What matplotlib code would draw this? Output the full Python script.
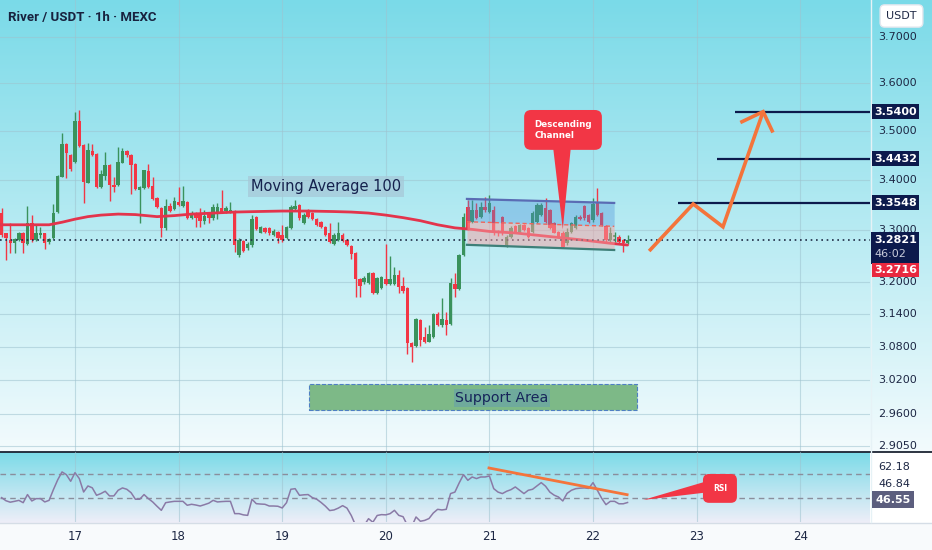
import numpy as np
import matplotlib
matplotlib.use("Agg")
import matplotlib.pyplot as plt
from matplotlib.patches import Rectangle, Polygon
from matplotlib.ticker import NullLocator, NullFormatter
from matplotlib.transforms import IdentityTransform

# River / USDT 1h candles, hour 0 = day 16 00:00
candle_hours = list(range(7, 153))
opens = [3.335, 3.294, 3.282, 3.276, 3.282, 3.295, 3.274, 3.315,
         3.282, 3.292, 3.294, 3.278, 3.286, 3.337, 3.406, 3.473,
         3.451, 3.437, 3.521, 3.471, 3.394, 3.459, 3.453, 3.386,
         3.408, 3.431, 3.390, 3.390, 3.435, 3.459, 3.451, 3.433,
         3.380, 3.384, 3.417, 3.388, 3.364, 3.344, 3.305, 3.348,
         3.342, 3.356, 3.348, 3.356, 3.325, 3.335, 3.335, 3.319,
         3.333, 3.325, 3.337, 3.344, 3.339, 3.337, 3.339, 3.253,
         3.280, 3.266, 3.272, 3.327, 3.295, 3.305, 3.305, 3.292,
         3.297, 3.292, 3.286, 3.305, 3.342, 3.350, 3.315, 3.340,
         3.335, 3.323, 3.317, 3.307, 3.295, 3.274, 3.282, 3.292,
         3.282, 3.270, 3.256, 3.207, 3.201, 3.199, 3.218, 3.180,
         3.190, 3.207, 3.198, 3.198, 3.215, 3.194, 3.190, 3.088,
         3.082, 3.130, 3.099, 3.090, 3.099, 3.141, 3.121, 3.130,
         3.123, 3.198, 3.188, 3.253, 3.346, 3.317, 3.340, 3.327,
         3.346, 3.337, 3.340, 3.297, 3.327, 3.272, 3.288, 3.309,
         3.297, 3.311, 3.305, 3.297, 3.317, 3.331, 3.344, 3.340,
         3.315, 3.297, 3.295, 3.276, 3.297, 3.305, 3.327, 3.348,
         3.331, 3.321, 3.354, 3.335, 3.309, 3.282, 3.288, 3.288,
         3.282, 3.276]
highs = [3.344, 3.295, 3.315, 3.286, 3.297, 3.297, 3.348, 3.331,
         3.311, 3.307, 3.295, 3.286, 3.352, 3.410, 3.496, 3.475,
         3.453, 3.540, 3.544, 3.473, 3.475, 3.473, 3.455, 3.421,
         3.457, 3.433, 3.406, 3.467, 3.465, 3.461, 3.453, 3.435,
         3.388, 3.421, 3.433, 3.406, 3.366, 3.346, 3.362, 3.354,
         3.366, 3.386, 3.388, 3.358, 3.339, 3.337, 3.344, 3.340,
         3.335, 3.352, 3.354, 3.380, 3.348, 3.356, 3.340, 3.286,
         3.282, 3.278, 3.331, 3.329, 3.309, 3.307, 3.307, 3.303,
         3.299, 3.311, 3.309, 3.350, 3.360, 3.352, 3.335, 3.342,
         3.337, 3.325, 3.319, 3.309, 3.315, 3.294, 3.317, 3.294,
         3.284, 3.272, 3.258, 3.209, 3.213, 3.220, 3.220, 3.211,
         3.213, 3.274, 3.251, 3.230, 3.224, 3.211, 3.192, 3.090,
         3.134, 3.132, 3.117, 3.121, 3.143, 3.145, 3.171, 3.145,
         3.209, 3.218, 3.255, 3.335, 3.360, 3.360, 3.354, 3.356,
         3.366, 3.370, 3.348, 3.301, 3.329, 3.292, 3.309, 3.311,
         3.313, 3.313, 3.307, 3.339, 3.354, 3.354, 3.364, 3.342,
         3.317, 3.299, 3.299, 3.305, 3.317, 3.331, 3.331, 3.350,
         3.333, 3.364, 3.384, 3.337, 3.311, 3.307, 3.297, 3.292,
         3.284, 3.292]
lows = [3.288, 3.243, 3.256, 3.256, 3.279, 3.256, 3.272, 3.278,
        3.280, 3.286, 3.264, 3.274, 3.284, 3.335, 3.406, 3.404,
        3.418, 3.435, 3.467, 3.354, 3.394, 3.449, 3.384, 3.384,
        3.400, 3.358, 3.376, 3.388, 3.435, 3.447, 3.372, 3.380,
        3.315, 3.382, 3.384, 3.360, 3.344, 3.288, 3.301, 3.337,
        3.340, 3.348, 3.346, 3.323, 3.323, 3.307, 3.307, 3.313,
        3.315, 3.321, 3.323, 3.335, 3.335, 3.335, 3.259, 3.249,
        3.258, 3.262, 3.268, 3.301, 3.294, 3.295, 3.292, 3.290,
        3.276, 3.278, 3.284, 3.303, 3.340, 3.321, 3.313, 3.325,
        3.321, 3.309, 3.305, 3.290, 3.276, 3.272, 3.280, 3.278,
        3.270, 3.245, 3.173, 3.173, 3.198, 3.198, 3.179, 3.179,
        3.188, 3.196, 3.196, 3.196, 3.180, 3.180, 3.068, 3.053,
        3.081, 3.082, 3.088, 3.090, 3.097, 3.119, 3.117, 3.103,
        3.121, 3.173, 3.186, 3.251, 3.301, 3.315, 3.323, 3.325,
        3.337, 3.335, 3.292, 3.290, 3.292, 3.268, 3.286, 3.295,
        3.295, 3.299, 3.286, 3.295, 3.315, 3.329, 3.315, 3.303,
        3.294, 3.286, 3.266, 3.272, 3.295, 3.303, 3.321, 3.321,
        3.315, 3.317, 3.329, 3.309, 3.278, 3.278, 3.278, 3.276,
        3.258, 3.274]
closes = [3.292, 3.286, 3.276, 3.284, 3.295, 3.276, 3.315, 3.282,
          3.294, 3.295, 3.276, 3.284, 3.335, 3.408, 3.473, 3.455,
          3.423, 3.521, 3.469, 3.396, 3.461, 3.451, 3.386, 3.412,
          3.431, 3.390, 3.386, 3.437, 3.459, 3.451, 3.431, 3.382,
          3.386, 3.419, 3.386, 3.362, 3.346, 3.305, 3.348, 3.339,
          3.358, 3.350, 3.358, 3.325, 3.335, 3.325, 3.319, 3.329,
          3.325, 3.346, 3.346, 3.337, 3.344, 3.340, 3.272, 3.282,
          3.260, 3.274, 3.323, 3.303, 3.307, 3.297, 3.294, 3.299,
          3.286, 3.282, 3.307, 3.346, 3.348, 3.325, 3.331, 3.327,
          3.323, 3.311, 3.307, 3.292, 3.278, 3.292, 3.295, 3.280,
          3.272, 3.255, 3.207, 3.194, 3.209, 3.218, 3.180, 3.209,
          3.211, 3.198, 3.207, 3.215, 3.192, 3.184, 3.088, 3.081,
          3.132, 3.093, 3.090, 3.104, 3.141, 3.121, 3.132, 3.121,
          3.199, 3.188, 3.253, 3.327, 3.305, 3.340, 3.325, 3.346,
          3.340, 3.354, 3.295, 3.294, 3.295, 3.288, 3.305, 3.297,
          3.311, 3.301, 3.288, 3.335, 3.350, 3.350, 3.317, 3.305,
          3.295, 3.288, 3.268, 3.297, 3.315, 3.327, 3.323, 3.325,
          3.317, 3.352, 3.331, 3.311, 3.282, 3.295, 3.292, 3.278,
          3.276, 3.2821]
rsi = [50.5, 48.0, 46.8, 47.5, 48.3, 46.4, 53.0, 47.8,
       49.7, 49.7, 47.0, 48.3, 57.0, 65.0, 71.4, 69.2,
       63.8, 70.8, 66.0, 55.1, 60.0, 58.5, 52.4, 53.8,
       55.7, 51.9, 51.9, 56.5, 58.4, 57.3, 54.5, 49.2,
       49.2, 53.0, 49.7, 47.0, 43.5, 40.2, 46.4, 47.0,
       47.5, 47.5, 47.5, 44.3, 45.1, 44.5, 43.7, 44.8,
       46.0, 48.3, 47.0, 47.3, 47.5, 47.5, 37.5, 37.5,
       36.5, 36.1, 49.2, 45.6, 45.3, 45.1, 43.7, 43.7,
       43.5, 42.1, 46.4, 57.3, 57.8, 52.4, 52.8, 53.0,
       50.5, 49.2, 46.6, 43.6, 40.0, 40.5, 42.0, 44.0,
       42.0, 36.0, 28.0, 27.0, 28.0, 33.4, 30.5, 36.0,
       36.7, 36.5, 37.5, 40.2, 36.1, 35.0, 28.0, 27.0,
       34.8, 31.3, 32.0, 33.5, 38.0, 41.0, 40.5, 41.0,
       53.8, 55.0, 62.5, 69.2, 64.6, 67.3, 66.0, 67.3,
       67.3, 68.1, 57.8, 55.0, 53.8, 55.7, 57.0, 59.2,
       56.5, 53.8, 56.5, 57.3, 60.0, 62.7, 59.8, 55.0,
       52.5, 51.0, 47.8, 54.0, 56.5, 57.8, 58.2, 58.4,
       58.0, 62.7, 56.5, 50.0, 44.8, 47.5, 47.5, 45.5,
       45.5, 46.55]

ma_hours = [6, 12, 18, 21, 24, 27, 30, 34, 38, 43, 47, 51, 56, 61, 66, 72,
            78, 84, 88, 92, 96, 100, 104, 108, 112, 116, 120, 126, 134, 142, 148, 152]
ma_values = [3.311, 3.311, 3.311, 3.316, 3.322, 3.327, 3.330, 3.332, 3.331, 3.327,
             3.329, 3.332, 3.334, 3.336, 3.337, 3.338, 3.338, 3.337, 3.336, 3.334,
             3.330, 3.325, 3.319, 3.311, 3.305, 3.302, 3.298, 3.295, 3.288, 3.281,
             3.275, 3.2716]

day_hours = [24, 48, 72, 96, 120, 144, 168, 192]
day_labels = ["17", "18", "19", "20", "21", "22", "23", "24"]
price_ticks = [3.7, 3.6, 3.5, 3.4, 3.3, 3.2, 3.14, 3.08, 3.02, 2.96, 2.905]

target_levels = [3.5400, 3.4432, 3.3548]
target_start = [176.9, 172.7, 163.7]

proj_hours = [157.0, 167.2, 174.1, 183.4]
proj_prices = [3.260, 3.352, 3.307, 3.540]
head_hours = [178.5, 183.4, 185.5]
head_prices = [3.519, 3.540, 3.500]

channel_hours = [114.8, 148.9]
channel_top = [3.362, 3.354]
channel_bottom = [3.272, 3.262]

support_hours = [78.2, 154.2]
support_prices = [2.9675, 3.0137]

rsi_trend_hours = [119.9, 151.9]
rsi_trend_values = [74.6, 52.9]

last_price = 3.2821
ma_last = 3.2716
rsi_last = 46.55

GREEN = "#3a925c"
RED = "#f23645"
NAVY = "#0c1a4c"
TEXT = "#1d2744"
ORANGE = "#f4743b"
GRID = "#9ec3cf"

XMIN, XMAX = 6.63, 208.16

fig = plt.figure(figsize=(9.32, 5.5), dpi=100)

# background gradients (pixels)
W, H = 932, 550
img = np.ones((H, W, 3))
t = np.linspace(0, 1, 452)[:, None]
img[:452] = ((1 - t) * np.array([122, 218, 232]) + t * np.array([243, 251, 253]))[:, None, :] / 255
t = np.linspace(0, 1, 71)[:, None]
img[452:523, :870] = ((1 - t) * np.array([124, 219, 232]) + t * np.array([238, 238, 248]))[:, None, :] / 255
img[523:] = np.array([248, 250, 252]) / 255
bg = fig.add_axes([0, 0, 1, 1])
bg.imshow(img, aspect="auto", extent=[0, W, H, 0], interpolation="bilinear")
bg.set_xlim(0, W)
bg.set_ylim(H, 0)
bg.axis("off")
bg.plot([0, W], [451.5, 451.5], color="#1c2433", lw=1.3)
bg.plot([0, W], [522.5, 522.5], color="#d5dde6", lw=1)
bg.plot([870.5, 870.5], [0, 522], color="#e6f2f6", lw=1)

# ---------- price panel ----------
ax = fig.add_axes([0, 99 / 550, 870 / 932, 451 / 550])
ax.set_facecolor("none")
ax.set_zorder(2)
for s in ax.spines.values():
    s.set_visible(False)
ax.set_yscale("log")
ax.set_yticks(price_ticks)
ax.yaxis.set_minor_locator(NullLocator())
ax.yaxis.set_minor_formatter(NullFormatter())
ax.set_xticks(day_hours)
ax.tick_params(left=False, labelleft=False, bottom=False, labelbottom=False)
ax.grid(True, color=GRID, lw=0.8, alpha=0.55)
ax.set_axisbelow(True)

hrs = np.array(candle_hours, dtype=float)
o = np.array(opens)
c = np.array(closes)
hi = np.array(highs)
lo = np.array(lows)
cols = np.where(c >= o, GREEN, RED)
ax.vlines(hrs, lo, hi, colors=cols, lw=1.0, zorder=3)
ax.bar(hrs, np.maximum(np.abs(c - o), 0.002), bottom=np.minimum(o, c),
       width=0.8, color=cols, lw=0, zorder=4)

ax.plot(ma_hours, ma_values, color="#e3344c", lw=2.0, zorder=5, solid_capstyle="round")
ax.axhline(last_price, color="#1f2a44", lw=1.2, ls=(0, (1, 2.2)), zorder=6)

# support area
sup = Rectangle((support_hours[0], support_prices[0]),
                support_hours[1] - support_hours[0],
                support_prices[1] - support_prices[0],
                fc="#7db987", ec="#4f7fc4", ls="--", lw=0.8, zorder=2)
ax.add_patch(sup)
ax.text(122.9, 2.9887, "Support Area", ha="center", va="center", fontsize=10.2,
        color="#16245a", zorder=3,
        bbox=dict(boxstyle="square,pad=0.12", fc="#6faa9c", ec="none"))

# descending channel
ch_mid = [(a + b) / 2 for a, b in zip(channel_top, channel_bottom)]
ax.fill_between(channel_hours, ch_mid, channel_top, color="#4a90d9", alpha=0.35, lw=0, zorder=6)
ax.fill_between(channel_hours, channel_bottom, ch_mid, color="#f7a3a3", alpha=0.5, lw=0, zorder=6)
ax.plot(channel_hours, channel_top, color="#5a6cb4", lw=1.6, zorder=7)
ax.plot(channel_hours, channel_bottom, color="#3d7f78", lw=1.6, zorder=7)
ax.plot(channel_hours, ch_mid, color="#f2665a", lw=1, ls=(0, (3, 2)), zorder=7)

ax.add_patch(Polygon([(134.7, 3.47), (138.9, 3.47), (137.0, 3.302)], closed=True,
                     fc=RED, ec="none", zorder=8))
ax.text(137.05, 3.502, "Descending\nChannel", ha="center", va="center", ma="left",
        fontsize=6.3, fontweight="bold", color="white", zorder=9, linespacing=1.25,
        bbox=dict(boxstyle="round,pad=1.15,rounding_size=0.8", fc=RED, ec="none"))

# moving average label
ax.text(82.2, 3.386, "Moving Average 100", ha="center", va="center", fontsize=10.5,
        color="#15214d", zorder=7,
        bbox=dict(boxstyle="square,pad=0.2", fc="#a7c9d8", ec="none", alpha=0.75))

# targets and projected path
ax.hlines(target_levels, target_start, XMAX, colors=NAVY, lw=1.6, zorder=7)
ax.plot(proj_hours, proj_prices, color=ORANGE, lw=2.6, zorder=8,
        solid_joinstyle="miter", solid_capstyle="butt")
ax.plot(head_hours, head_prices, color=ORANGE, lw=2.6, zorder=8, solid_joinstyle="miter")

ax.set_xlim(XMIN, XMAX)
ax.set_ylim(2.8965, 3.7816)

# right price scale
ytr = ax.get_yaxis_transform()
for v in price_ticks:
    ax.annotate(f"{v:.4f}", xy=(1, v), xycoords=ytr, xytext=(8, 0),
                textcoords="offset pixels", ha="left", va="center",
                fontsize=8, color=TEXT, annotation_clip=False, zorder=3)
for v in target_levels:
    ax.annotate(f"{v:.4f}", xy=(1, v), xycoords=ytr, xytext=(4, 0),
                textcoords="offset pixels", ha="left", va="center",
                fontsize=8, fontweight="bold", color="white", annotation_clip=False,
                zorder=10, bbox=dict(boxstyle="square,pad=0.22", fc=NAVY, ec="none"))

# last price box with countdown (drawn in pixels around the price's position)
px, py = ytr.transform((1, last_price))
ax.add_patch(Rectangle((px + 1, py - 24), 48, 32, transform=IdentityTransform(),
                       fc=NAVY, ec="none", zorder=10, clip_on=False))
ax.annotate(f"{last_price:.4f}", xy=(1, last_price), xycoords=ytr, xytext=(4, 0),
            textcoords="offset pixels", ha="left", va="center", fontsize=8,
            fontweight="bold", color="white", annotation_clip=False, zorder=11)
ax.annotate("46:02", xy=(1, last_price), xycoords=ytr, xytext=(4, -14),
            textcoords="offset pixels", ha="left", va="center", fontsize=8,
            color="#c9cddb", annotation_clip=False, zorder=11)
ax.annotate(f"{ma_last:.4f}", xy=(1, ma_last), xycoords=ytr, xytext=(4, -25),
            textcoords="offset pixels", ha="left", va="center", fontsize=8,
            fontweight="bold", color="white", annotation_clip=False, zorder=10,
            bbox=dict(boxstyle="square,pad=0.22", fc="#e8283f", ec="none"))

fig.text(8 / W, 1 - 17 / H, "River / USDT \u00b7 1h \u00b7 MEXC", ha="left", va="center",
         fontsize=9.5, fontweight="bold", color="#18223f", family=["Roboto", "DejaVu Sans"])
fig.text(901.5 / W, 1 - 16 / H, "USDT", ha="center", va="center", fontsize=8, color=TEXT,
         bbox=dict(boxstyle="round,pad=0.55,rounding_size=0.4", fc="white", ec="#e3e7ee"))

# ---------- RSI panel ----------
ax2 = fig.add_axes([0, 28 / 550, 870 / 932, 70 / 550])
ax2.set_facecolor("none")
ax2.set_zorder(2)
for s in ax2.spines.values():
    s.set_visible(False)
ax2.set_xticks(day_hours, day_labels)
ax2.set_yticks([])
ax2.tick_params(axis="x", length=0, pad=6, labelsize=8.5, labelcolor=TEXT)
ax2.grid(True, axis="x", color=GRID, lw=0.8, alpha=0.55)
ax2.set_axisbelow(True)
ax2.axhline(70, color="#8a8e9c", lw=1, ls=(0, (4, 3)), zorder=2)
ax2.axhline(50, color="#8a8e9c", lw=1, ls=(0, (4, 3)), zorder=2)
ax2.plot(candle_hours, rsi, color="#8a7aa6", lw=1.1, zorder=3)
ax2.plot(rsi_trend_hours, rsi_trend_values, color=ORANGE, lw=2, zorder=4)
ax2.add_patch(Polygon([(155.6, 48.6), (171.0, 64.5), (171.0, 55.0)], closed=True,
                      fc=RED, ec="none", zorder=5))
ax2.text(173.4, 58.0, "RSI", ha="center", va="center", fontsize=5.5, fontweight="bold",
         color="white", zorder=6,
         bbox=dict(boxstyle="round,pad=1.3,rounding_size=0.8", fc=RED, ec="none"))
ax2.set_xlim(XMIN, XMAX)
ax2.set_ylim(30.7, 87.6)

atr = ax2.transAxes
ax2.annotate("62.18", xy=(1, 0.786), xycoords=atr, xytext=(8, 0), textcoords="offset pixels",
             ha="left", va="center", fontsize=8, color=TEXT, annotation_clip=False)
ax2.annotate("46.84", xy=(1, 0.543), xycoords=atr, xytext=(8, 0), textcoords="offset pixels",
             ha="left", va="center", fontsize=8, color=TEXT, annotation_clip=False)
ax2.annotate(f"{rsi_last:.2f}", xy=(1, rsi_last), xycoords=ax2.get_yaxis_transform(),
             xytext=(5, 3), textcoords="offset pixels", ha="left", va="center",
             fontsize=8, fontweight="bold", color="white", annotation_clip=False,
             bbox=dict(boxstyle="square,pad=0.3", fc="#5c5e7e", ec="none"))

fig.savefig("out.png", dpi=100)
